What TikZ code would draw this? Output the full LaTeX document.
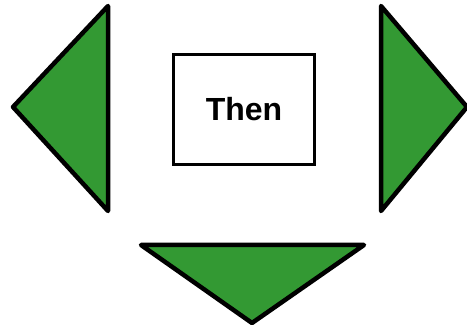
\documentclass[tikz,border=0pt]{standalone}
\usepackage{fontspec}
\setmainfont{Liberation Sans}
\usepackage{xcolor}
\definecolor{ArrowGreen}{HTML}{339933}

\begin{document}
\begin{tikzpicture}[
    x=1pt, y=-1pt,
    pointer/.style={draw=black, fill=ArrowGreen, line width=4.5pt, line join=round},
    label/.style={draw=black, line width=3.5pt, fill=white, minimum width=141pt,
      minimum height=110pt, font=\fontsize{32}{36}\selectfont\bfseries}
  ]
    \useasboundingbox (0,0) rectangle (467,329);
    \node[label] (then) at (244,109.5) {Then};
    % left, right and bottom pointers
    \draw[pointer] (108,6) -- (13,107) -- (108,211) -- cycle;
    \draw[pointer] (381,6) -- (467,107) -- (381,211) -- cycle;
    \draw[pointer] (141,245) -- (364,245) -- (252,323) -- cycle;
  \end{tikzpicture}
\end{document}
